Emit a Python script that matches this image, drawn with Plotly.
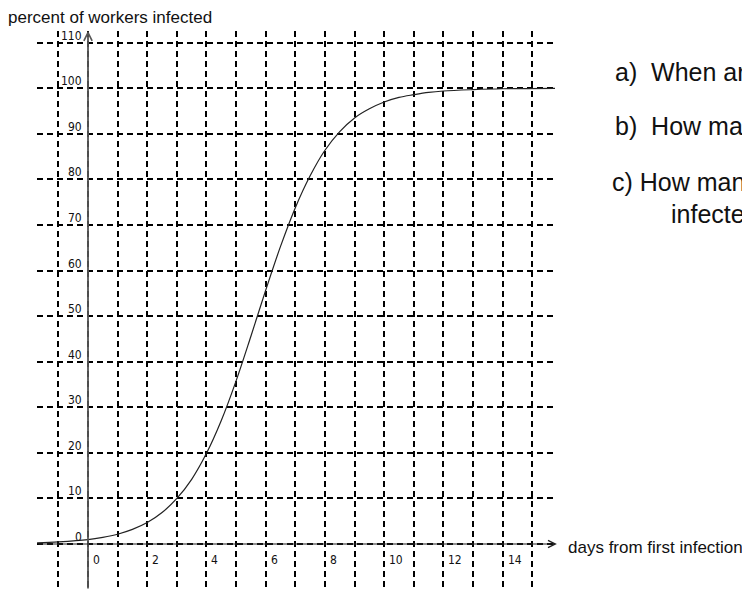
import plotly.graph_objects as go

# ---- data ----
days = [-1.72, -1, 0, 0.5, 1, 1.5, 2, 2.5, 3, 3.5, 4, 4.5, 5, 5.5, 6, 6.5, 7,
        7.5, 8, 8.5, 9, 9.5, 10, 10.5, 11, 11.5, 12, 13, 14, 15.77]
pct_infected = [0.25, 0.45, 0.95, 1.45, 2.15, 3.2, 4.7, 6.9, 10.0, 14.2, 19.9,
                27.1, 35.8, 45.6, 55.7, 65.3, 73.8, 80.8, 86.4, 90.5, 93.5,
                95.5, 97.0, 98.0, 98.6, 99.1, 99.4, 99.7, 99.9, 100.0]
y_tick_values = [0, 10, 20, 30, 40, 50, 60, 70, 80, 90, 100, 110]
x_tick_values = [0, 2, 4, 6, 8, 10, 12, 14]
y_title = "percent of workers infected"
x_title = "days from first infection"
questions = ["a)  When are", "b)  How many", "c) How many", "infected"]

# ---- layout geometry (pixels, page has an 8px body margin) ----
OFF = 8
W, H = 750 - OFF, 591 - OFF
ML, MR, MT, MB = 37 - OFF, 195, 31 - OFF, 1
PW, PH = W - ML - MR, H - MT - MB
X_RANGE = [-1.722, 15.767]
Y_RANGE = [-10.09, 112.57]


def paper(px, py):
    """Reference-window pixel position -> paper fraction."""
    return (px - OFF - ML) / PW, (H - MB - (py - OFF)) / PH


fig = go.Figure()
fig.add_trace(go.Scatter(
    x=days, y=pct_infected, mode="lines",
    line=dict(color="#222222", width=1.2, shape="spline", smoothing=1),
    hoverinfo="skip"))

grid = dict(showgrid=True, gridcolor="#000000", gridwidth=2,
            griddash="6px,4px", zeroline=False, showticklabels=False,
            ticks="", showline=False, fixedrange=True)

fig.update_layout(
    width=W, height=H, autosize=False,
    margin=dict(l=ML, r=MR, t=MT, b=MB, pad=0),
    paper_bgcolor="white", plot_bgcolor="white", showlegend=False,
    xaxis=dict(range=X_RANGE, tick0=0, dtick=1, **grid),
    yaxis=dict(range=Y_RANGE, tick0=0, dtick=10, **grid),
)

ann = []
# axes with arrows
ann.append(dict(x=0, y=112.6, ax=0, ay=Y_RANGE[0], xref="x", yref="y",
                axref="x", ayref="y", text="", showarrow=True, arrowhead=5,
                arrowsize=0.9, arrowwidth=1.8, arrowcolor="#555555",
                standoff=0, startstandoff=0))
ann.append(dict(x=15.83, y=0, ax=X_RANGE[0], ay=0, xref="x", yref="y",
                axref="x", ayref="y", text="", showarrow=True, arrowhead=5,
                arrowsize=1.3, arrowwidth=1.1, arrowcolor="#222222",
                standoff=0, startstandoff=0))

tick_font = dict(family="DejaVu Sans Condensed, DejaVu Sans", size=12,
                 color="#111111")
for v in y_tick_values:
    ann.append(dict(x=0, y=v, xref="x", yref="y", text=str(v),
                    showarrow=False, xanchor="right", yanchor="bottom",
                    xshift=-4, yshift=-2, font=tick_font))
for v in x_tick_values:
    ann.append(dict(x=v, y=0, xref="x", yref="y", text=str(v),
                    showarrow=False, xanchor="left", yanchor="top",
                    xshift=3, yshift=-7, font=tick_font))

label_font = dict(family="Liberation Sans, Arial, sans-serif", size=17,
                  color="#111111")
px_, py_ = paper(6, 17)
ann.append(dict(x=px_, y=py_, xref="paper", yref="paper", text=y_title,
                showarrow=False, xanchor="left", yanchor="middle",
                font=label_font))
px_, py_ = paper(566, 547)
ann.append(dict(x=px_, y=py_, xref="paper", yref="paper", text=x_title,
                showarrow=False, xanchor="left", yanchor="middle",
                font=label_font))

q_font = dict(family="Liberation Sans, Arial, sans-serif", size=25,
              color="#111111")
q_pos = [(613, 72), (613, 126), (610, 182), (669, 214)]
for t, (qx, qy) in zip(questions, q_pos):
    px_, py_ = paper(qx, qy)
    ann.append(dict(x=px_, y=py_, xref="paper", yref="paper", text=t,
                    showarrow=False, xanchor="left", yanchor="middle",
                    font=q_font))

fig.update_layout(annotations=ann)
fig.write_html("out.html")
